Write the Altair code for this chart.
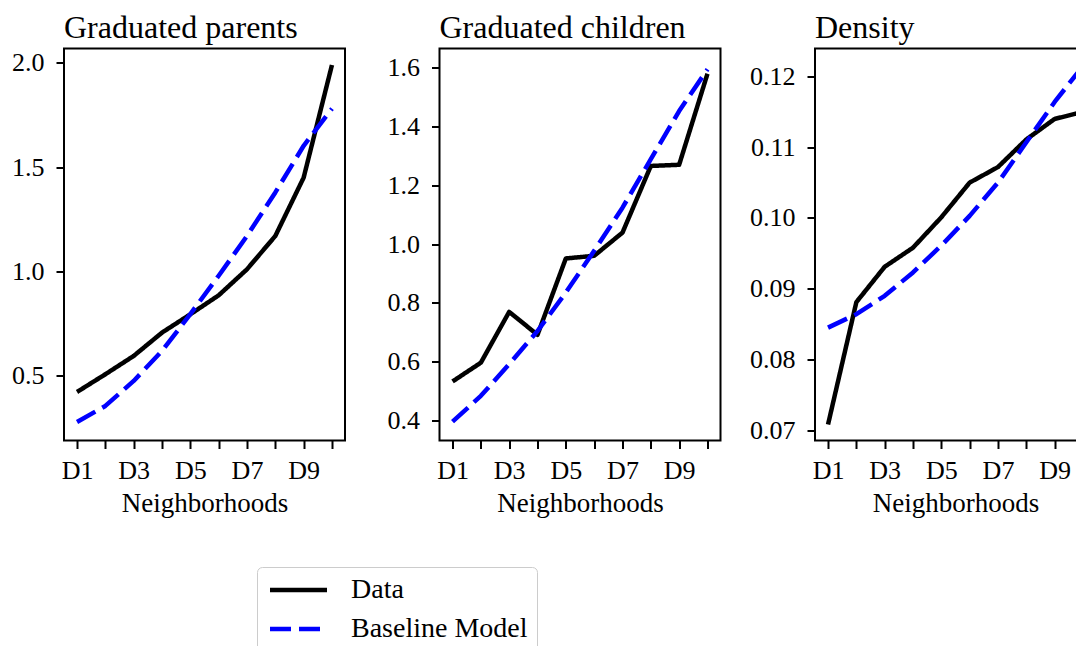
import altair as alt
import pandas as pd

neighborhoods = ["D1", "D2", "D3", "D4", "D5", "D6", "D7", "D8", "D9", "D10"]
shown_labels = ["D1", "", "D3", "", "D5", "", "D7", "", "D9", ""]
series = ["Data", "Baseline Model"]

titles = ["Graduated parents", "Graduated children", "Density"]

parents_data = [0.42, 0.505, 0.593, 0.705, 0.793, 0.884, 1.009, 1.169, 1.449, 1.99]
parents_model = [0.276, 0.353, 0.473, 0.617, 0.794, 0.978, 1.169, 1.378, 1.602, 1.78]

children_data = [0.532, 0.596, 0.769, 0.691, 0.951, 0.960, 1.039, 1.266, 1.27, 1.58]
children_model = [0.395, 0.483, 0.591, 0.704, 0.835, 0.977, 1.124, 1.289, 1.453, 1.595]

density_data = [0.0708, 0.0881, 0.0931, 0.0958, 0.1001, 0.105, 0.1072, 0.1111, 0.114, 0.1150]
density_model = [0.0845, 0.0864, 0.0890, 0.0923, 0.0961, 0.1003, 0.1050, 0.1107, 0.1164, 0.1215]

y_domains = [[0.187, 2.069], [0.331, 1.666], [0.06854, 0.12396]]
y_ticks = [
    [0.5, 1.0, 1.5, 2.0],
    [0.4, 0.6, 0.8, 1.0, 1.2, 1.4, 1.6],
    [0.07, 0.08, 0.09, 0.10, 0.11, 0.12],
]
y_formats = [".1f", ".1f", ".2f"]

FONT = "Liberation Serif"
PANEL_W = 281
PANEL_H = 392
X_DOMAIN = [0.54, 10.46]

# The figure is cropped on the right, through the third panel, and at the
# bottom, through the legend: the SVG is given a fixed size (fitting the
# page) and everything past it is clipped.
SVG_W = 1068
SVG_H = 630
ORIGIN_X = 56
ORIGIN_Y = 40.5

legend = alt.Legend(
    title=None,
    orient="none",
    legendX=193,
    legendY=518.5,
    symbolType="M-1,0H4.7",
    symbolSize=400,
    symbolStrokeWidth=4.5,
    labelFont=FONT,
    labelFontSize=28,
    labelColor="black",
    labelOffset=57,
    labelLimit=400,
    strokeColor="#cccccc",
    fillColor="white",
    cornerRadius=5,
    padding=9,
    rowPadding=11,
)

label_expr = "[" + ",".join("'" + s + "'" for s in shown_labels) + "][datum.value - 1]"


def panel(title, data_vals, model_vals, domain, ticks, fmt):
    idx = list(range(1, len(neighborhoods) + 1))
    df = pd.DataFrame(
        {
            "idx": idx + idx,
            "neighborhood": neighborhoods + neighborhoods,
            "value": list(data_vals) + list(model_vals),
            "series": ["Data"] * len(neighborhoods) + ["Baseline Model"] * len(neighborhoods),
        }
    )
    return (
        alt.Chart(df)
        .mark_line(strokeWidth=4.5, strokeJoin="round")
        .encode(
            x=alt.X(
                "idx:Q",
                scale=alt.Scale(domain=X_DOMAIN, nice=False, zero=False),
                axis=alt.Axis(
                    title="Neighborhoods",
                    values=idx,
                    labelAngle=0,
                    labelExpr=label_expr,
                    labelPadding=9,
                    titlePadding=7,
                    labelFlush=False,
                    labelOverlap=False,
                ),
            ),
            y=alt.Y(
                "value:Q",
                scale=alt.Scale(domain=domain, nice=False, zero=False),
                axis=alt.Axis(title=None, values=ticks, format=fmt, labelPadding=12),
            ),
            color=alt.Color(
                "series:N",
                sort=series,
                scale=alt.Scale(domain=series, range=["black", "blue"]),
                legend=legend,
            ),
            strokeDash=alt.StrokeDash(
                "series:N",
                sort=series,
                scale=alt.Scale(domain=series, range=[[1, 0], [21, 8]]),
                legend=legend,
            ),
        )
        .properties(
            width=PANEL_W,
            height=PANEL_H,
            title=alt.TitleParams(
                title,
                anchor="start",
                frame="group",
                baseline="alphabetic",
                offset=-21,
                font=FONT,
                fontSize=32,
                fontWeight="normal",
                color="black",
            ),
        )
    )


panels = [
    panel(titles[i], d, m, y_domains[i], y_ticks[i], y_formats[i])
    for i, (d, m) in enumerate(
        [
            (parents_data, parents_model),
            (children_data, children_model),
            (density_data, density_model),
        ]
    )
]

chart = (
    alt.hconcat(*panels, spacing=94.5, bounds="flush")
    .properties(
        autosize=alt.AutoSizeParams(type="none"),
        padding={
            "left": ORIGIN_X,
            "top": ORIGIN_Y,
            "right": SVG_W - ORIGIN_X,
            "bottom": SVG_H - ORIGIN_Y,
        },
    )
    .configure(font=FONT)
    .configure_view(stroke="black", strokeWidth=2)
    .configure_axis(
        domain=False,
        grid=False,
        tickColor="black",
        tickWidth=2,
        tickSize=8,
        labelFont=FONT,
        labelFontSize=26,
        labelColor="black",
        titleFont=FONT,
        titleFontSize=27,
        titleFontWeight="normal",
        titleColor="black",
    )
)

chart.save("out.html", embed_options={"renderer": "svg", "actions": False})
